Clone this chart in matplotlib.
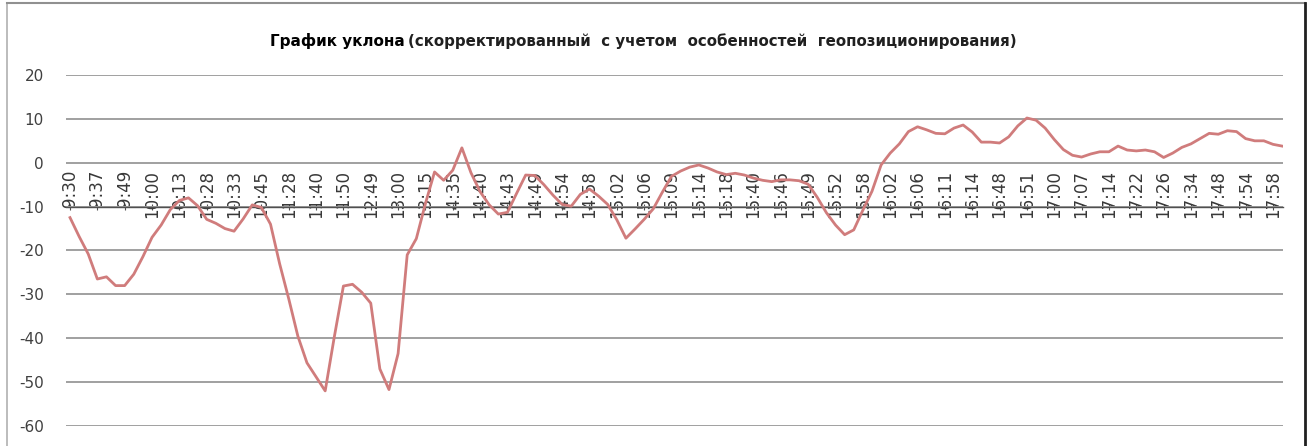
import matplotlib.pyplot as plt
from matplotlib.lines import Line2D
import numpy as np

plt.rcParams['axes.unicode_minus'] = False

# подписи оси времени (каждая третья точка)
times = ['9:30', '9:37', '9:49', '10:00', '10:13', '10:28', '10:33', '10:45', '11:28',
         '11:40', '11:50', '12:49', '13:00', '13:15', '14:35', '14:40', '14:43', '14:49',
         '14:54', '14:58', '15:02', '15:06', '15:09', '15:14', '15:18', '15:40', '15:46',
         '15:49', '15:52', '15:58', '16:02', '16:06', '16:11', '16:14', '16:48', '16:51',
         '17:00', '17:07', '17:14', '17:22', '17:26', '17:34', '17:48', '17:54', '17:58']

# уклон, значения
slope = [-12.5, -16.8, -20.8, -26.5, -26.0, -28.0, -28.0, -25.4, -21.4, -17.0,
         -14.2, -10.7, -8.6, -8.0, -9.8, -12.9, -13.8, -15.0, -15.6, -12.8,
         -9.6, -10.2, -14.0, -23.0, -31.0, -39.5, -45.6, -48.8, -52.0, -39.7,
         -28.1, -27.7, -29.5, -32.0, -47.0, -51.7, -43.5, -21.0, -17.3, -9.3,
         -2.1, -4.0, -1.7, 3.4, -2.3, -6.6, -9.6, -11.7, -11.3, -7.0,
         -2.8, -2.9, -5.0, -7.4, -9.5, -9.9, -7.2, -6.0, -7.6, -9.5,
         -13.0, -17.2, -15.1, -12.9, -10.5, -6.7, -3.1, -1.9, -1.0, -0.5,
         -1.2, -2.1, -2.7, -2.4, -2.8, -3.5, -4.0, -4.3, -3.9, -3.9,
         -4.1, -4.9, -7.9, -11.4, -14.2, -16.4, -15.3, -10.8, -6.5, -0.5,
         2.2, 4.3, 7.1, 8.2, 7.5, 6.7, 6.6, 7.9, 8.6, 7.0,
         4.7, 4.7, 4.5, 5.9, 8.4, 10.2, 9.7, 7.9, 5.3, 3.0,
         1.7, 1.3, 2.0, 2.5, 2.5, 3.8, 2.9, 2.7, 2.9, 2.5,
         1.2, 2.2, 3.5, 4.3, 5.5, 6.7, 6.5, 7.3, 7.1, 5.5,
         5.0, 5.0, 4.2, 3.8]
label_step = 3

W, H = 1313, 446
fig = plt.figure(figsize=(W / 100, H / 100), dpi=100)
ax = fig.add_axes([66 / W, 20 / H, (1283 - 66) / W, 351 / H])

x = np.arange(len(slope))
ax.plot(x, slope, color='#d07c7c', lw=2.0, zorder=3)

ax.set_ylim(-60, 20)
ax.set_yticks(range(-60, 21, 10))
ax.set_xlim(-0.44, 133.1)
ax.grid(axis='y', color='#a0a0a0', lw=1.4)
ax.set_axisbelow(True)

for s in ['top', 'left', 'right']:
    ax.spines[s].set_visible(False)
ax.spines['bottom'].set_position(('data', -10))
ax.spines['bottom'].set_color('#505050')
ax.spines['bottom'].set_linewidth(1.0)
ax.spines['bottom'].set_zorder(2)

ax.set_xticks(x[::label_step])
ax.set_xticklabels(times, rotation=90, fontsize=12, color='#383838')
ax.tick_params(axis='x', direction='inout', length=5, color='#505050', pad=-29)
ax.tick_params(axis='y', length=0, pad=16, labelsize=11, labelcolor='#404040')

fig.text(405 / W, 1 - 41 / H, 'График уклона', ha='right', va='center',
         fontsize=11, fontweight='bold')
fig.text(408 / W, 1 - 41 / H,
         '(скорректированный  с учетом  особенностей  геопозиционирования)',
         ha='left', va='center', fontsize=10.8, fontweight='bold', color='#202020')

# рамка области диаграммы
fig.add_artist(Line2D([7 / W, 7 / W], [0, 1 - 3 / H], color='#b0b0b0', lw=1.2))
fig.add_artist(Line2D([7 / W, 1305 / W], [1 - 3 / H, 1 - 3 / H], color='#909090', lw=1.5))
fig.add_artist(Line2D([1305 / W, 1305 / W], [0, 1 - 3 / H], color='#202020', lw=2.0))

fig.savefig('out.png', dpi=100)
